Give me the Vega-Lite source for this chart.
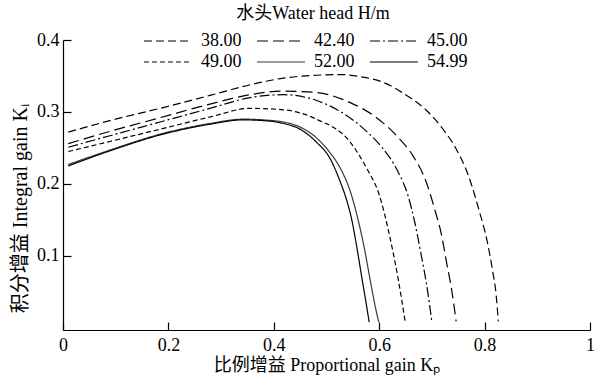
{
  "$schema": "https://vega.github.io/schema/vega-lite/v6.json",
  "width": 527,
  "height": 290,
  "autosize": "none",
  "padding": {"left": 63, "top": 40, "right": 10, "bottom": 46},
  "background": "white",
  "config": {
    "view": {"stroke": null},
    "font": "Liberation Serif, Noto Sans CJK SC",
    "axis": {"domainColor": "#000", "tickColor": "#000", "labelColor": "#000", "titleColor": "#000", "grid": false, "labelFont": "Liberation Serif", "titleFont": "Liberation Serif, Noto Sans CJK SC", "labelFontSize": 18, "titleFontSize": 18, "titleFontWeight": "normal", "domainWidth": 1.2, "tickWidth": 1.2}
  },
  "data": {
    "values": [
      {"H": "38.00", "kp": 0.01, "ki": 0.272},
      {"H": "38.00", "kp": 0.089, "ki": 0.288},
      {"H": "38.00", "kp": 0.184, "ki": 0.305},
      {"H": "38.00", "kp": 0.279, "ki": 0.323},
      {"H": "38.00", "kp": 0.368, "ki": 0.34},
      {"H": "38.00", "kp": 0.418, "ki": 0.347},
      {"H": "38.00", "kp": 0.481, "ki": 0.351},
      {"H": "38.00", "kp": 0.526, "ki": 0.352},
      {"H": "38.00", "kp": 0.565, "ki": 0.349},
      {"H": "38.00", "kp": 0.608, "ki": 0.341},
      {"H": "38.00", "kp": 0.652, "ki": 0.323},
      {"H": "38.00", "kp": 0.69, "ki": 0.302},
      {"H": "38.00", "kp": 0.72, "ki": 0.277},
      {"H": "38.00", "kp": 0.745, "ki": 0.25},
      {"H": "38.00", "kp": 0.77, "ki": 0.21},
      {"H": "38.00", "kp": 0.79, "ki": 0.162},
      {"H": "38.00", "kp": 0.805, "ki": 0.12},
      {"H": "38.00", "kp": 0.815, "ki": 0.08},
      {"H": "38.00", "kp": 0.822, "ki": 0.045},
      {"H": "38.00", "kp": 0.826, "ki": 0.009},

      {"H": "42.40", "kp": 0.01, "ki": 0.256},
      {"H": "42.40", "kp": 0.089, "ki": 0.273},
      {"H": "42.40", "kp": 0.184, "ki": 0.292},
      {"H": "42.40", "kp": 0.279, "ki": 0.311},
      {"H": "42.40", "kp": 0.355, "ki": 0.324},
      {"H": "42.40", "kp": 0.418, "ki": 0.329},
      {"H": "42.40", "kp": 0.481, "ki": 0.327},
      {"H": "42.40", "kp": 0.545, "ki": 0.313},
      {"H": "42.40", "kp": 0.595, "ki": 0.292},
      {"H": "42.40", "kp": 0.633, "ki": 0.267},
      {"H": "42.40", "kp": 0.665, "ki": 0.238},
      {"H": "42.40", "kp": 0.688, "ki": 0.205},
      {"H": "42.40", "kp": 0.706, "ki": 0.163},
      {"H": "42.40", "kp": 0.718, "ki": 0.13},
      {"H": "42.40", "kp": 0.728, "ki": 0.09},
      {"H": "42.40", "kp": 0.737, "ki": 0.055},
      {"H": "42.40", "kp": 0.746, "ki": 0.009},

      {"H": "45.00", "kp": 0.01, "ki": 0.251},
      {"H": "45.00", "kp": 0.089, "ki": 0.267},
      {"H": "45.00", "kp": 0.184, "ki": 0.286},
      {"H": "45.00", "kp": 0.279, "ki": 0.305},
      {"H": "45.00", "kp": 0.355, "ki": 0.32},
      {"H": "45.00", "kp": 0.418, "ki": 0.324},
      {"H": "45.00", "kp": 0.481, "ki": 0.316},
      {"H": "45.00", "kp": 0.532, "ki": 0.298},
      {"H": "45.00", "kp": 0.576, "ki": 0.273},
      {"H": "45.00", "kp": 0.605, "ki": 0.251},
      {"H": "45.00", "kp": 0.635, "ki": 0.218},
      {"H": "45.00", "kp": 0.655, "ki": 0.183},
      {"H": "45.00", "kp": 0.668, "ki": 0.145},
      {"H": "45.00", "kp": 0.68, "ki": 0.1},
      {"H": "45.00", "kp": 0.69, "ki": 0.06},
      {"H": "45.00", "kp": 0.7, "ki": 0.008},

      {"H": "49.00", "kp": 0.01, "ki": 0.245},
      {"H": "49.00", "kp": 0.089, "ki": 0.259},
      {"H": "49.00", "kp": 0.184, "ki": 0.276},
      {"H": "49.00", "kp": 0.279, "ki": 0.293},
      {"H": "49.00", "kp": 0.355, "ki": 0.305},
      {"H": "49.00", "kp": 0.418, "ki": 0.303},
      {"H": "49.00", "kp": 0.481, "ki": 0.29},
      {"H": "49.00", "kp": 0.545, "ki": 0.258},
      {"H": "49.00", "kp": 0.576, "ki": 0.222},
      {"H": "49.00", "kp": 0.6, "ki": 0.185},
      {"H": "49.00", "kp": 0.62, "ki": 0.127},
      {"H": "49.00", "kp": 0.636, "ki": 0.068},
      {"H": "49.00", "kp": 0.649, "ki": 0.01},

      {"H": "52.00", "kp": 0.01, "ki": 0.227},
      {"H": "52.00", "kp": 0.089, "ki": 0.247},
      {"H": "52.00", "kp": 0.184, "ki": 0.269},
      {"H": "52.00", "kp": 0.279, "ki": 0.284},
      {"H": "52.00", "kp": 0.342, "ki": 0.29},
      {"H": "52.00", "kp": 0.38, "ki": 0.289},
      {"H": "52.00", "kp": 0.418, "ki": 0.286},
      {"H": "52.00", "kp": 0.45, "ki": 0.279},
      {"H": "52.00", "kp": 0.481, "ki": 0.264},
      {"H": "52.00", "kp": 0.505, "ki": 0.245},
      {"H": "52.00", "kp": 0.526, "ki": 0.222},
      {"H": "52.00", "kp": 0.545, "ki": 0.19},
      {"H": "52.00", "kp": 0.56, "ki": 0.15},
      {"H": "52.00", "kp": 0.572, "ki": 0.11},
      {"H": "52.00", "kp": 0.582, "ki": 0.07},
      {"H": "52.00", "kp": 0.591, "ki": 0.035},
      {"H": "52.00", "kp": 0.599, "ki": 0.008},

      {"H": "54.99", "kp": 0.01, "ki": 0.225},
      {"H": "54.99", "kp": 0.089, "ki": 0.246},
      {"H": "54.99", "kp": 0.184, "ki": 0.268},
      {"H": "54.99", "kp": 0.279, "ki": 0.283},
      {"H": "54.99", "kp": 0.342, "ki": 0.289},
      {"H": "54.99", "kp": 0.38, "ki": 0.288},
      {"H": "54.99", "kp": 0.418, "ki": 0.284},
      {"H": "54.99", "kp": 0.45, "ki": 0.276},
      {"H": "54.99", "kp": 0.481, "ki": 0.258},
      {"H": "54.99", "kp": 0.507, "ki": 0.235},
      {"H": "54.99", "kp": 0.525, "ki": 0.205},
      {"H": "54.99", "kp": 0.538, "ki": 0.178},
      {"H": "54.99", "kp": 0.548, "ki": 0.15},
      {"H": "54.99", "kp": 0.558, "ki": 0.11},
      {"H": "54.99", "kp": 0.567, "ki": 0.07},
      {"H": "54.99", "kp": 0.575, "ki": 0.035},
      {"H": "54.99", "kp": 0.581, "ki": 0.008}
    ]
  },
  "mark": {"type": "line", "interpolate": "monotone"},
  "encoding": {
    "x": {
      "field": "kp", "type": "quantitative",
      "scale": {"domain": [0, 1], "nice": false},
      "axis": {"title": "比例增益  Proportional gain Kₚ", "values": [0, 0.2, 0.4, 0.6, 0.8, 1], "format": "~g", "tickSize": -8, "labelPadding": 14, "titlePadding": 2, "labelFlush": false, "labelFont": "Liberation Serif"}
    },
    "y": {
      "field": "ki", "type": "quantitative",
      "scale": {"domain": [-0.003, 0.4], "nice": false, "zero": false},
      "axis": {"title": "积分增益 Integral gain Kᵢ", "titleFontSize": 20, "values": [0.1, 0.2, 0.3, 0.4], "tickSize": -8, "labelPadding": 12, "labelFont": "Liberation Serif", "titleX": -43, "titleY": 168, "titleBaseline": "middle", "titleAngle": 270}
    },
    "strokeDash": {
      "field": "H", "type": "ordinal",
      "scale": {"domain": ["38.00", "42.40", "45.00", "49.00", "52.00", "54.99"], "range": [[8, 4], [11, 5], [10, 3, 2, 3], [5, 3], [1, 0], [1, 0]]},
      "legend": {
        "title": "水头Water head H/m", "orient": "none", "legendX": 96, "legendY": -35,
        "direction": "horizontal", "columns": 3, "symbolType": "M-4,0L4,0", "symbolSize": 144,
        "labelFont": "Liberation Serif", "labelFontSize": 18, "labelColor": "#000", "labelOffset": 24,
        "titleFont": "Liberation Serif, Noto Sans CJK SC", "titleFontSize": 18, "titleFontWeight": "normal", "titleColor": "#000",
        "titleAnchor": "middle", "titlePadding": 9, "columnPadding": 12, "rowPadding": 3, "padding": 0
      }
    },
    "strokeWidth": {
      "field": "H", "type": "ordinal",
      "scale": {"domain": ["38.00", "42.40", "45.00", "49.00", "52.00", "54.99"], "range": [1.2, 1.2, 1.2, 1.2, 0.9, 2.7]}
    },
    "color": {
      "field": "H", "type": "ordinal",
      "scale": {"domain": ["38.00", "42.40", "45.00", "49.00", "52.00", "54.99"], "range": ["#000", "#000", "#000", "#000", "#3a3a30", "#000"]}
    }
  }
}
